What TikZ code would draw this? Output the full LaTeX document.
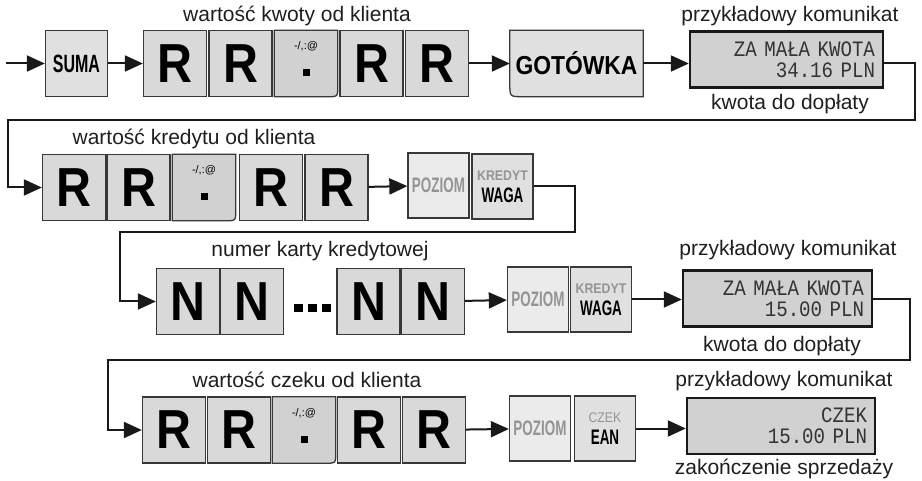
\documentclass[tikz,border=0pt]{standalone}
\usepackage{fontspec}
\setmainfont{Liberation Sans}
\newfontfamily\keyfont[FakeStretch=0.88]{Liberation Sans}
\newfontfamily\narrowfont[FakeStretch=0.64]{Liberation Sans}
\newfontfamily\lcdfont[FakeStretch=0.87]{Liberation Mono}
\usetikzlibrary{arrows.meta,backgrounds}

\definecolor{keygray}{gray}{0.85}
\definecolor{dotgray}{gray}{0.82}
\definecolor{fngray}{gray}{0.88}
\definecolor{lvlgray}{gray}{0.92}
\definecolor{lcdgray}{gray}{0.82}
\definecolor{edgegray}{gray}{0.22}
\definecolor{capgray}{gray}{0.58}

\newcommand\keycap[3]{{\color{capgray}\keyfont#2\fontsize{#1}{#1}\selectfont #3}}

\tikzset{
  keyline/.style={draw=edgegray,line width=1.3pt},
  keybox/.style={keyline,fill=keygray,minimum width=63pt,minimum height=66pt,inner sep=0pt,
    font=\keyfont\bfseries\fontsize{55}{55}\selectfont},
  dotkey/.style={minimum width=63pt,minimum height=66pt,inner sep=0pt,
    label={[font=\fontsize{11}{11}\selectfont,anchor=north,yshift=-8pt]north:{-/,:@}},
    label={[fill=black,minimum size=7pt,inner sep=0pt,anchor=south,yshift=20pt]south:{}}},
  fnkey/.style={keyline,fill=fngray,minimum width=62pt,minimum height=66pt,inner sep=0pt,
    font=\narrowfont\bfseries\fontsize{25}{25}\selectfont},
  lvlkey/.style={keyline,fill=lvlgray,minimum width=61pt,minimum height=65pt,inner sep=0pt,
    text=capgray,font=\narrowfont\bfseries\fontsize{21}{21}\selectfont},
  twokey/.style={keyline,fill=fngray,minimum width=61pt,minimum height=65pt,inner sep=0pt,
    align=center,font=\narrowfont\bfseries\fontsize{21}{22}\selectfont},
  cashkey/.style={minimum width=133pt,minimum height=66pt,inner sep=0pt,
    font=\keyfont\bfseries\fontsize{26}{26}\selectfont},
  lcd/.style={draw=black!90,line width=2.4pt,fill=lcdgray,minimum height=56pt,
    inner xsep=8pt,inner ysep=2pt,text width=#1,align=right,
    font=\lcdfont\fontsize{22}{21}\selectfont,text=black!80},
  lbl/.style={anchor=base,inner sep=0pt,text=black!88,font=\fontsize{21}{21}\selectfont},
  conn/.style={draw=black!90,line width=2pt,-{Triangle[length=18pt,width=16pt]}}
}

\begin{document}
\begin{tikzpicture}[x=1pt,y=-1pt]
  \useasboundingbox (0,0) rectangle (922,481);

  \coordinate (in) at (6,63.5);
  \node[fnkey] (suma) at (76.5,63.5) {SUMA};
  \node[keybox] (ka1) at (175,63.5) {R};
  \node[keybox] (ka2) at (240.5,63.5) {R};
  \node[dotkey] (ka3) at (306,63.5) {};
  \node[keybox] (ka4) at (371.5,63.5) {R};
  \node[keybox] (ka5) at (437,63.5) {R};
  \node[cashkey] (got) at (576.5,63.5) {GOTÓWKA};
  \node[lcd=177pt] (disp1) at (786.5,59.5) {ZA MAŁA KWOTA\\34.16 PLN};
  \node[lbl] (tkwota) at (297,22) {wartość kwoty od klienta};
  \node[lbl] (tkom1) at (790,22) {przykładowy komunikat};
  \node[lbl] (tdop1) at (790,110) {kwota do dopłaty};

  \node[keybox] (kb1) at (74,187.5) {R};
  \node[keybox] (kb2) at (138.5,187.5) {R};
  \node[dotkey] (kb3) at (204,187.5) {};
  \node[keybox] (kb4) at (271,187.5) {R};
  \node[keybox] (kb5) at (336.5,187.5) {R};
  \node[lvlkey] (pz1) at (438.5,185.5) {POZIOM};
  \node[twokey] (kw1) at (502.5,186.5) {\keycap{14}{\bfseries}{KREDYT}\\WAGA};
  \node[lbl] (tkred) at (194,145) {wartość kredytu od klienta};

  \node[keybox] (n1) at (188,301.5) {N};
  \node[keybox] (n2) at (252,301.5) {N};
  \node[inner sep=0pt] (dots) at (312,308) {\rule{9pt}{8pt}\hspace{5pt}\rule{9pt}{8pt}\hspace{5pt}\rule{9pt}{8pt}};
  \node[keybox] (n3) at (368.5,301.5) {N};
  \node[keybox] (n4) at (433,301.5) {N};
  \node[lvlkey] (pz2) at (538,299.5) {POZIOM};
  \node[twokey] (kw2) at (601,299.5) {\keycap{14}{\bfseries}{KREDYT}\\WAGA};
  \node[lcd=173pt] (disp2) at (777.5,298.5) {ZA MAŁA KWOTA\\15.00 PLN};
  \node[lbl] (tkarta) at (320,257) {numer karty kredytowej};
  \node[lbl] (tkom2) at (788,256) {przykładowy komunikat};
  \node[lbl] (tdop2) at (782,352) {kwota do dopłaty};

  \node[keybox] (kc1) at (174,430) {R};
  \node[keybox] (kc2) at (239,430) {R};
  \node[dotkey] (kc3) at (304,430) {};
  \node[keybox] (kc4) at (369,430) {R};
  \node[keybox] (kc5) at (434,430) {R};
  \node[lvlkey] (pz3) at (540,428.5) {POZIOM};
  \node[twokey] (ean) at (605,428.5) {\keycap{14}{\mdseries}{CZEK}\\EAN};
  \node[lcd=172pt] (disp3) at (781,426) {CZEK\\15.00 PLN};
  \node[lbl] (tczek) at (307,388) {wartość czeku od klienta};
  \node[lbl] (tkom3) at (784,386) {przykładowy komunikat};
  \node[lbl] (tkon) at (784,474) {zakończenie sprzedaży};

  \begin{scope}[on background layer]
    \draw[keyline,fill=dotgray] (ka3.north west) -- (ka3.north east) -- ([yshift=9pt]ka3.south east)
      .. controls (ka3.south east) .. ([xshift=-9pt]ka3.south east) -- (ka3.south west) -- cycle;
    \draw[keyline,fill=dotgray] (kb3.north west) -- (kb3.north east) -- ([yshift=9pt]kb3.south east)
      .. controls (kb3.south east) .. ([xshift=-9pt]kb3.south east) -- (kb3.south west) -- cycle;
    \draw[keyline,fill=dotgray] (kc3.north west) -- (kc3.north east) -- ([yshift=9pt]kc3.south east)
      .. controls (kc3.south east) .. ([xshift=-9pt]kc3.south east) -- (kc3.south west) -- cycle;
    \draw[keyline,fill=fngray] (got.north west) -- (got.north east) -- (got.south east)
      -- ([xshift=13pt]got.south west) .. controls (got.south west) .. ([yshift=13pt]got.south west) -- cycle;
  \end{scope}

  \coordinate (t1) at (915,120);
  \coordinate (t2) at (8,120);
  \coordinate (t3) at (575,232);
  \coordinate (t4) at (120,232);
  \coordinate (t5) at (910,360);
  \coordinate (t6) at (108,360);

  \draw[conn] (in) -- (suma);
  \draw[conn] (suma) -- (ka1);
  \draw[conn] (ka5) -- (got);
  \draw[conn] (got) -- (got -| disp1.west);
  \draw[conn] (disp1.east |- got) -| (t1) -- (t2) |- (kb1);
  \draw[conn] (kb5) -- (pz1);
  \draw[conn] (kw1) -| (t3) -- (t4) |- (n1);
  \draw[conn] (n4) -- (pz2);
  \draw[conn] (kw2) -- (kw2 -| disp2.west);
  \draw[conn] (disp2.east |- kw2) -| (t5) -- (t6) |- (kc1);
  \draw[conn] (kc5) -- (pz3);
  \draw[conn] (ean) -- (ean -| disp3.west);
\end{tikzpicture}
\end{document}
